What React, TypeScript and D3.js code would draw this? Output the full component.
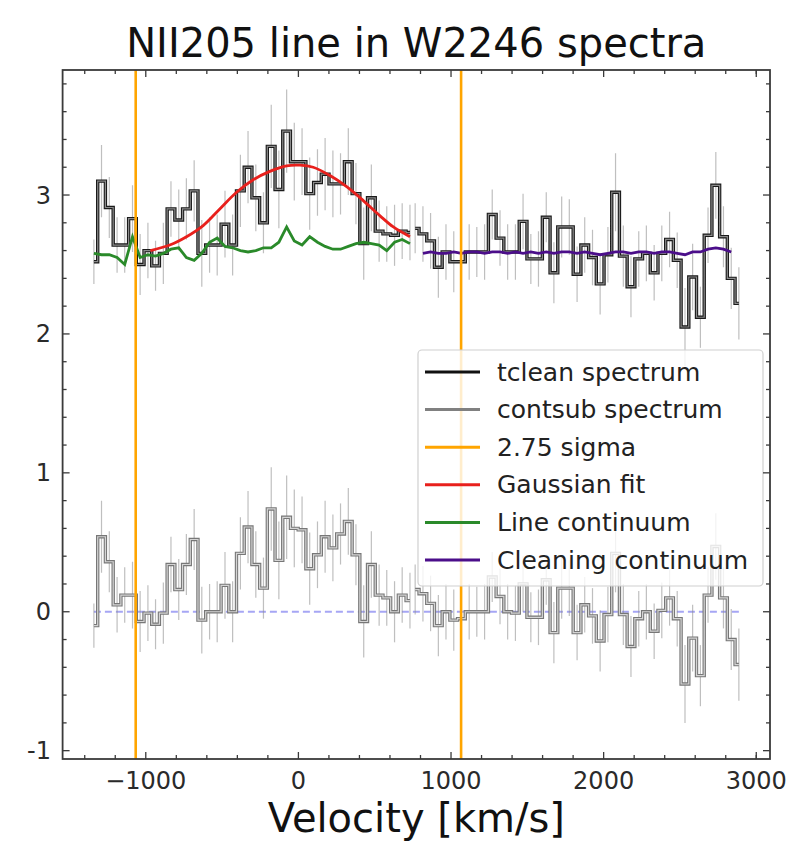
import React from 'react';
import * as d3 from 'd3';

// ---------- data ----------
const velLeft = [-1340, -1290, -1239, -1188, -1138, -1087, -1037, -986, -936, -885, -835, -784, -734, -683, -633, -582, -532, -481, -431, -380, -330, -279, -229, -178, -128, -77, -27, 24, 74, 125, 175, 226, 276, 327, 377, 428, 478, 529, 579, 630, 680, 731];
const tcleanLeft = [2.52, 3.10, 2.91, 2.64, 2.64, 2.83, 2.50, 2.60, 2.49, 2.58, 2.90, 2.82, 2.90, 3.03, 2.58, 2.64, 2.64, 2.79, 2.64, 3.03, 3.20, 2.98, 2.80, 3.35, 3.04, 3.46, 3.24, 3.24, 3.01, 3.09, 3.15, 3.08, 3.08, 3.24, 3.01, 2.65, 2.98, 2.74, 2.72, 2.71, 2.74, 2.73];
const contsubLeft = [-0.10, 0.54, 0.36, 0.05, 0.12, 0.12, -0.07, -0.01, -0.09, -0.01, 0.34, 0.16, 0.34, 0.52, -0.06, 0.0, 0.0, 0.19, 0.0, 0.42, 0.61, 0.34, 0.17, 0.74, 0.37, 0.68, 0.60, 0.59, 0.31, 0.41, 0.54, 0.46, 0.56, 0.65, 0.41, -0.07, 0.34, 0.12, 0.10, 0.0, 0.12, 0.08];
const errLeft = [0.16, 0.26, 0.22, 0.20, 0.20, 0.24, 0.22, 0.20, 0.18, 0.22, 0.20, 0.22, 0.22, 0.22, 0.24, 0.20, 0.22, 0.24, 0.22, 0.26, 0.26, 0.24, 0.22, 0.30, 0.28, 0.30, 0.28, 0.24, 0.26, 0.24, 0.26, 0.24, 0.22, 0.24, 0.22, 0.26, 0.24, 0.22, 0.20, 0.22, 0.20, 0.20];
const lineContinuum = [2.58, 2.57, 2.57, 2.55, 2.50, 2.70, 2.55, 2.57, 2.56, 2.58, 2.61, 2.62, 2.55, 2.53, 2.58, 2.66, 2.69, 2.63, 2.62, 2.60, 2.59, 2.60, 2.62, 2.62, 2.66, 2.77, 2.67, 2.64, 2.70, 2.66, 2.63, 2.61, 2.61, 2.63, 2.65, 2.66, 2.65, 2.64, 2.60, 2.66, 2.68, 2.65];

const velRight = [765, 816, 866, 917, 967, 1018, 1068, 1119, 1169, 1220, 1270, 1321, 1371, 1422, 1472, 1523, 1573, 1624, 1674, 1725, 1775, 1826, 1876, 1927, 1977, 2028, 2078, 2129, 2179, 2230, 2280, 2331, 2381, 2432, 2482, 2533, 2583, 2634, 2684, 2735, 2785, 2836, 2886];
const tcleanRight = [2.76, 2.72, 2.67, 2.48, 2.59, 2.52, 2.52, 2.59, 2.59, 2.59, 2.86, 2.69, 2.59, 2.59, 2.81, 2.54, 2.54, 2.84, 2.44, 2.77, 2.77, 2.43, 2.64, 2.55, 2.36, 2.57, 3.02, 2.56, 2.34, 2.54, 2.58, 2.44, 2.58, 2.68, 2.53, 2.05, 2.41, 2.12, 2.71, 3.07, 2.70, 2.40, 2.22];
const contsubRight = [0.16, 0.13, 0.06, -0.10, 0.0, -0.06, -0.05, 0.0, 0.0, 0.0, 0.25, 0.11, 0.0, -0.01, 0.20, -0.04, -0.04, 0.23, -0.15, 0.17, 0.17, -0.15, 0.05, -0.03, -0.21, -0.02, 0.42, -0.02, -0.25, -0.05, 0.0, -0.14, 0.01, 0.10, -0.05, -0.52, -0.19, -0.46, 0.12, 0.47, 0.10, -0.20, -0.38];
const errRight = [0.18, 0.20, 0.20, 0.22, 0.20, 0.22, 0.20, 0.20, 0.18, 0.20, 0.18, 0.20, 0.20, 0.20, 0.20, 0.18, 0.20, 0.18, 0.22, 0.22, 0.20, 0.20, 0.20, 0.20, 0.22, 0.20, 0.28, 0.22, 0.22, 0.20, 0.20, 0.20, 0.20, 0.20, 0.20, 0.28, 0.24, 0.22, 0.20, 0.24, 0.22, 0.22, 0.26];
const cleanContVel = [816, 866, 917, 967, 1018, 1068, 1119, 1169, 1220, 1270, 1321, 1371, 1422, 1472, 1523, 1573, 1624, 1674, 1725, 1775, 1826, 1876, 1927, 1977, 2028, 2078, 2129, 2179, 2230, 2280, 2331, 2381, 2432, 2482, 2533, 2583, 2634, 2684, 2735, 2785, 2836];
const cleanContinuum = [2.58, 2.59, 2.58, 2.58, 2.59, 2.58, 2.59, 2.59, 2.58, 2.59, 2.59, 2.58, 2.59, 2.58, 2.59, 2.58, 2.59, 2.58, 2.59, 2.59, 2.58, 2.59, 2.58, 2.57, 2.58, 2.59, 2.59, 2.58, 2.59, 2.59, 2.58, 2.59, 2.59, 2.58, 2.57, 2.59, 2.59, 2.61, 2.62, 2.61, 2.59];

const fitVel = [-970, -843, -733, -624, -515, -405, -296, -187, -78, 10, 97, 207, 316, 425, 535, 622, 731];
const fitVal = [2.60, 2.64, 2.70, 2.78, 2.90, 3.02, 3.11, 3.17, 3.21, 3.215, 3.20, 3.14, 3.06, 2.96, 2.85, 2.77, 2.70];

const sigmaVel = [-1066, 1066];
const xTicks = [-1000, 0, 1000, 2000, 3000];
const xMinor = [-1400, -1200, -800, -600, -400, -200, 200, 400, 600, 800, 1200, 1400, 1600, 1800, 2200, 2400, 2600, 2800, 3000];
const yTicks = [-1, 0, 1, 2, 3];
const yMinor = [-0.8, -0.6, -0.4, -0.2, 0.2, 0.4, 0.6, 0.8, 1.2, 1.4, 1.6, 1.8, 2.2, 2.4, 2.6, 2.8, 3.2, 3.4, 3.6, 3.8];
const legendLabels = ['tclean spectrum', 'contsub spectrum', '2.75 sigma', 'Gaussian fit', 'Line continuum', 'Cleaning continuum'];
const legendColors = ['#111111', '#808080', '#FFA500', '#e8201c', '#2a8a2a', '#4b0e8a'];

const FONT = 'DejaVu Sans, sans-serif';

export default function App() {
  const L = 62.6, R = 770, T = 70, B = 759;
  const x = d3.scaleLinear().domain([-1545, 3090]).range([L, R]);
  const y = d3.scaleLinear().domain([-1.06, 3.90]).range([B, T]);

  const stepLine = d3.line<[number, number]>().x(d => x(d[0])).y(d => y(d[1])).curve(d3.curveStep);
  const smooth = d3.line<[number, number]>().x(d => x(d[0])).y(d => y(d[1])).curve(d3.curveCatmullRom);
  const plain = d3.line<[number, number]>().x(d => x(d[0])).y(d => y(d[1]));

  const zip = (a: number[], b: number[]) => a.map((v, i) => [v, b[i]] as [number, number]);

  const segs = [
    { vel: velLeft, t: tcleanLeft, c: contsubLeft, e: errLeft },
    { vel: velRight, t: tcleanRight, c: contsubRight, e: errRight },
  ];

  const fmtX = (v: number) => (v < 0 ? '\u2212' + Math.abs(v) : String(v));
  const fmtY = (v: number) => (v < 0 ? '-' + Math.abs(v) : String(v));

  const legX = 418, legY = 350, legW = 345, legH = 236;
  const legRow0 = 372, legStep = 37.6;

  return (
    <svg width={789} height={849} style={{ position: 'absolute', left: 0, top: 0, background: '#fff' }} fontFamily={FONT}>
      <rect x={0} y={0} width={789} height={849} fill="#fff" />
      <defs>
        <clipPath id="plotclip"><rect x={L} y={T} width={R - L} height={B - T} /></clipPath>
      </defs>
      <g clipPath="url(#plotclip)">
        {/* zero dashed line */}
        <line x1={x(velLeft[0])} x2={x(velRight[velRight.length - 1])} y1={y(0)} y2={y(0)} stroke="#8080f0" strokeOpacity={0.7} strokeWidth={1.8} strokeDasharray="7,4" />
        {/* error bars */}
        {segs.map((s, si) => (
          <g key={'eb' + si} stroke="#8a8a8a" strokeOpacity={0.55} strokeWidth={1.2}>
            {s.vel.map((v, i) => (
              <line key={'t' + i} x1={x(v)} x2={x(v)} y1={y(s.t[i] - s.e[i])} y2={y(s.t[i] + s.e[i])} />
            ))}
            {s.vel.map((v, i) => (
              <line key={'c' + i} x1={x(v)} x2={x(v)} y1={y(s.c[i] - s.e[i])} y2={y(s.c[i] + s.e[i])} />
            ))}
          </g>
        ))}
        {/* contsub spectrum */}
        {segs.map((s, si) => (
          <g key={'cs' + si} fill="none">
            <path d={stepLine(zip(s.vel, s.c)) || ''} stroke="#777" strokeWidth={3.4} />
            <path d={stepLine(zip(s.vel, s.c)) || ''} stroke="#d4d4d4" strokeWidth={1.2} />
          </g>
        ))}
        {/* tclean spectrum */}
        {segs.map((s, si) => (
          <g key={'tc' + si} fill="none">
            <path d={stepLine(zip(s.vel, s.t)) || ''} stroke="#1a1a1a" strokeWidth={3.4} />
            <path d={stepLine(zip(s.vel, s.t)) || ''} stroke="#8a8a8a" strokeWidth={1.2} />
          </g>
        ))}
        {/* continua */}
        <path d={plain(zip(velLeft, lineContinuum)) || ''} fill="none" stroke={legendColors[4]} strokeWidth={2.8} />
        <path d={plain(zip(cleanContVel, cleanContinuum)) || ''} fill="none" stroke={legendColors[5]} strokeWidth={2.8} />
        {/* gaussian fit */}
        <path d={smooth(zip(fitVel, fitVal)) || ''} fill="none" stroke={legendColors[3]} strokeWidth={2.8} />
        {/* sigma lines */}
        {sigmaVel.map((v, i) => (
          <line key={'s' + i} x1={x(v)} x2={x(v)} y1={T} y2={B} stroke="#FFA500" strokeWidth={2.6} />
        ))}
      </g>

      {/* legend */}
      <rect x={legX} y={legY} width={legW} height={legH} rx={4} fill="#fff" fillOpacity={0.8} stroke="#d0d0d0" strokeWidth={1.2} />
      {legendLabels.map((lab, i) => (
        <g key={'lg' + i}>
          <line x1={425} x2={480} y1={legRow0 + i * legStep} y2={legRow0 + i * legStep} stroke={legendColors[i]} strokeWidth={3} />
          <text x={497} y={legRow0 + i * legStep + 8.5} fontSize={25} fill="#222">{lab}</text>
        </g>
      ))}

      {/* frame */}
      <rect x={L} y={T} width={R - L} height={B - T} fill="none" stroke="#3a3a3a" strokeWidth={1.8} />
      {/* ticks */}
      <g stroke="#3a3a3a" strokeWidth={1.3}>
        {xTicks.map(v => (
          <g key={'xt' + v}>
            <line x1={x(v)} x2={x(v)} y1={B} y2={B - 7} />
            <line x1={x(v)} x2={x(v)} y1={T} y2={T + 7} />
          </g>
        ))}
        {xMinor.map(v => (
          <g key={'xm' + v}>
            <line x1={x(v)} x2={x(v)} y1={B} y2={B - 4} />
            <line x1={x(v)} x2={x(v)} y1={T} y2={T + 4} />
          </g>
        ))}
        {yTicks.map(v => (
          <g key={'yt' + v}>
            <line x1={L} x2={L + 7} y1={y(v)} y2={y(v)} />
            <line x1={R} x2={R - 7} y1={y(v)} y2={y(v)} />
          </g>
        ))}
        {yMinor.map(v => (
          <g key={'ym' + v}>
            <line x1={L} x2={L + 4} y1={y(v)} y2={y(v)} />
            <line x1={R} x2={R - 4} y1={y(v)} y2={y(v)} />
          </g>
        ))}
      </g>
      {xTicks.map(v => (
        <text key={'xl' + v} x={x(v)} y={789} textAnchor="middle" fontSize={24} fill="#2a2a2a">{fmtX(v)}</text>
      ))}
      {yTicks.map(v => (
        <text key={'yl' + v} x={51} y={y(v) + 8.5} textAnchor="end" fontSize={24} fill="#2a2a2a">{fmtY(v)}</text>
      ))}
      <text x={(L + R) / 2} y={57} textAnchor="middle" fontSize={40} fill="#111">NII205 line in W2246 spectra</text>
      <text x={(L + R) / 2} y={832} textAnchor="middle" fontSize={40} fill="#111">Velocity [km/s]</text>
    </svg>
  );
}
